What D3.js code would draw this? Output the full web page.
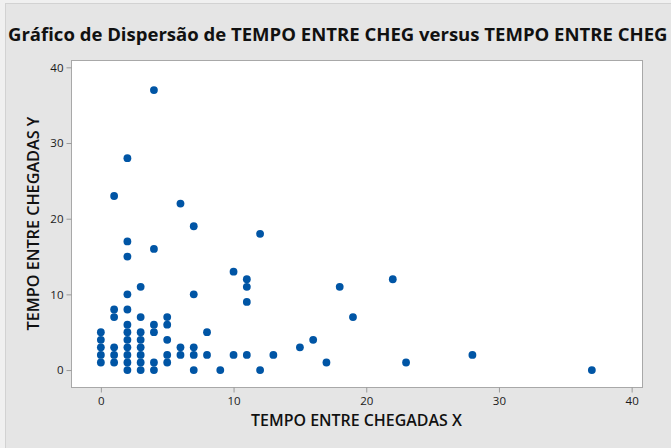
<!DOCTYPE html>
<html>
<head>
<meta charset="utf-8">
<script src="https://cdn.jsdelivr.net/npm/d3@7"></script>
<style>
  body { margin: 0; padding: 0; background: #f2f2f2; }
  svg { display: block; }
  text { font-family: "Open Sans", "Noto Sans", sans-serif; }
</style>
</head>
<body>
<div id="chart"></div>
<script>
// Data: pairs of arrival gaps
const xValues = [
  0, 0, 0, 0, 0,
  1, 1, 1, 1, 1, 1,
  2, 2, 2, 2, 2, 2, 2, 2, 2, 2, 2, 2,
  3, 3, 3, 3, 3, 3, 3, 3,
  4, 4, 4, 4, 4, 4,
  5, 5, 5, 5, 5,
  6, 6, 6,
  7, 7, 7, 7, 7,
  8, 8,
  9,
  10, 10,
  11, 11, 11, 11,
  12, 12,
  13, 15, 16, 17, 18, 19, 22, 23, 28, 37
];
const yValues = [
  1, 2, 3, 4, 5,
  1, 2, 3, 7, 8, 23,
  0, 1, 2, 3, 4, 5, 6, 8, 10, 15, 17, 28,
  0, 1, 2, 3, 4, 5, 7, 11,
  0, 1, 5, 6, 16, 37,
  1, 2, 4, 6, 7,
  2, 3, 22,
  0, 2, 3, 10, 19,
  2, 5,
  0,
  2, 13,
  2, 9, 11, 12,
  0, 18,
  2, 3, 4, 1, 11, 7, 12, 1, 2, 0
];
const xTicks = [0, 10, 20, 30, 40];
const yTicks = [0, 10, 20, 30, 40];

const titleText = 'Gráfico de Dispersão de TEMPO ENTRE CHEG versus TEMPO ENTRE CHEG';
const xLabel = 'TEMPO ENTRE CHEGADAS X';
const yLabel = 'TEMPO ENTRE CHEGADAS Y';

// Canvas
const WIDTH = 671;
const HEIGHT = 448;
const plot = { left: 71, right: 642, top: 60, bottom: 387 };
const DOT_COLOR = '#0055a5';

const svg = d3.select('#chart').append('svg')
  .attr('width', WIDTH)
  .attr('height', HEIGHT);

// background / window frame
svg.append('rect')
  .attr('x', 0).attr('y', 0)
  .attr('width', WIDTH).attr('height', HEIGHT)
  .attr('fill', '#f0f0f0');
svg.append('rect')
  .attr('x', 5.5).attr('y', 3.5)
  .attr('width', WIDTH).attr('height', HEIGHT)
  .attr('fill', '#e5e5e5')
  .attr('stroke', '#d2d2d2');

// scales
const x = d3.scaleLinear().domain([-2.25, 40.78]).range([plot.left, plot.right]);
const y = d3.scaleLinear().domain([-2.24, 40.97]).range([plot.bottom, plot.top]);

// plot area
svg.append('rect')
  .attr('x', plot.left + 0.5).attr('y', plot.top + 0.5)
  .attr('width', plot.right - plot.left).attr('height', plot.bottom - plot.top)
  .attr('fill', '#ffffff')
  .attr('stroke', '#a8a8a8');

// axes
const xAxis = svg.append('g')
  .attr('transform', 'translate(0,' + (plot.bottom + 0.5) + ')')
  .call(d3.axisBottom(x).tickValues(xTicks).tickSize(5).tickSizeOuter(0).tickPadding(4));
const yAxis = svg.append('g')
  .attr('transform', 'translate(' + (plot.left + 0.5) + ',0)')
  .call(d3.axisLeft(y).tickValues(yTicks).tickSize(5).tickSizeOuter(0).tickPadding(3));

[xAxis, yAxis].forEach(g => {
  g.select('.domain').remove();
  g.selectAll('.tick line').attr('stroke', '#9a9a9a');
  g.selectAll('.tick text')
    .attr('fill', '#1a1a1a')
    .style('font-size', '11.5px');
});

// points
svg.append('g')
  .selectAll('circle')
  .data(xValues.map((v, i) => [v, yValues[i]]))
  .join('circle')
  .attr('cx', d => x(d[0]))
  .attr('cy', d => y(d[1]))
  .attr('r', 3.9)
  .attr('fill', DOT_COLOR);

// fit a text element to a target width by changing its font size
function fit_text (t, size, target) {
  t.style('font-size', size + 'px');
  let w = t.node().getComputedTextLength();
  t.style('font-size', (size * target / w) + 'px');
}

// title
let title = svg.append('text')
  .attr('x', 8).attr('y', 41)
  .attr('fill', '#111')
  .style('font-weight', 'bold')
  .text(titleText);
fit_text(title, 16, 660);

// axis titles
let xt = svg.append('text')
  .attr('x', (plot.left + plot.right) / 2).attr('y', 426)
  .attr('text-anchor', 'middle')
  .attr('fill', '#111')
  .style('font-weight', '600')
  .text(xLabel);
fit_text(xt, 13, 211);

let yt = svg.append('text')
  .attr('transform', 'translate(39,' + ((plot.top + plot.bottom) / 2) + ')rotate(-90)')
  .attr('text-anchor', 'middle')
  .attr('fill', '#111')
  .style('font-weight', '600')
  .text(yLabel);
fit_text(yt, 13, 214);
</script>
</body>
</html>
